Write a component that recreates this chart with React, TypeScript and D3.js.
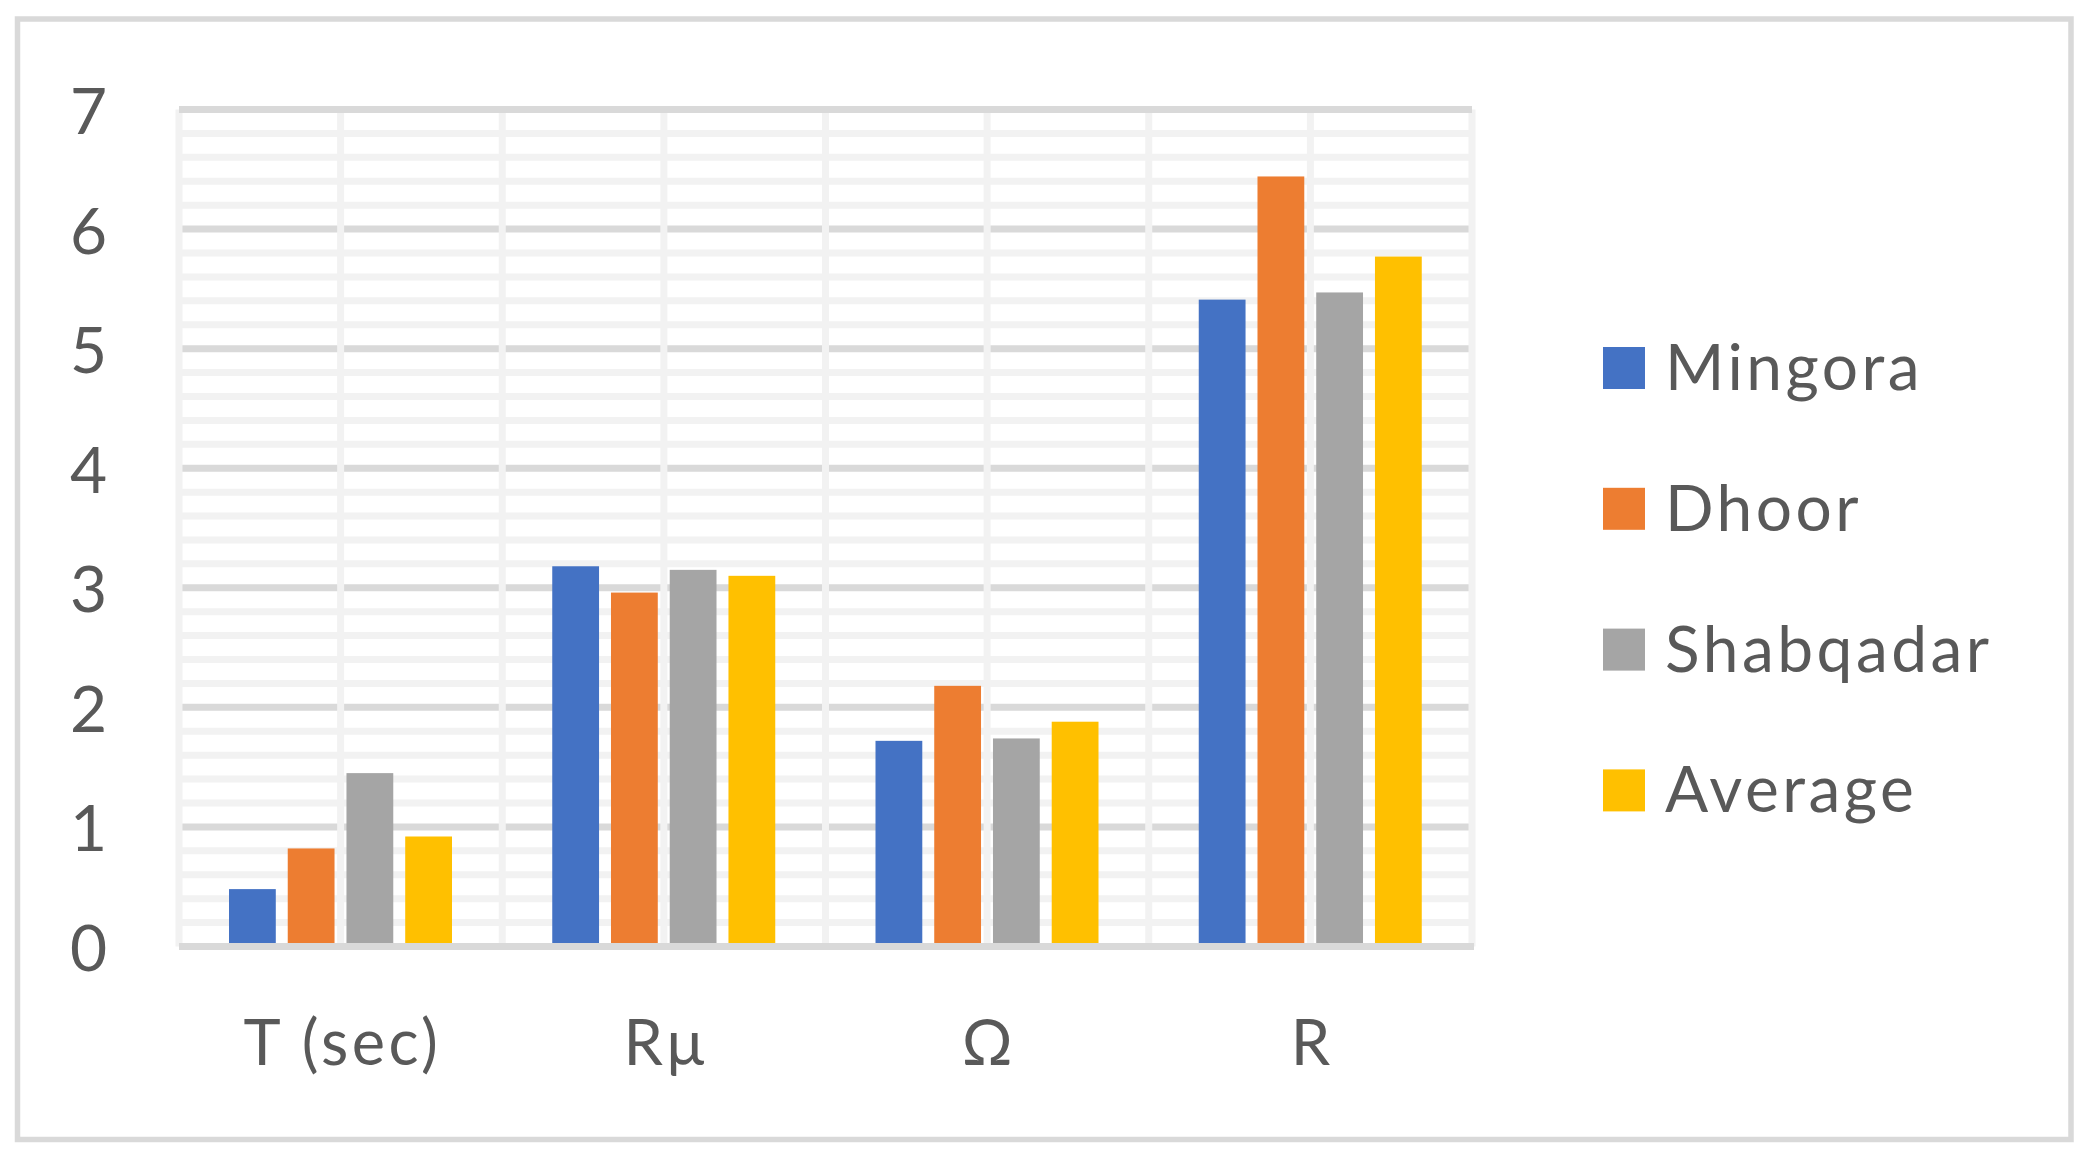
import React from "react";
import * as d3 from "d3";

const categories = ["T (sec)", "Rμ", "Ω", "R"];
const seriesNames = ["Mingora", "Dhoor", "Shabqadar", "Average"];
const mingora = [0.48, 3.18, 1.72, 5.41];
const dhoor = [0.82, 2.96, 2.18, 6.44];
const shabqadar = [1.45, 3.15, 1.74, 5.47];
const average = [0.92, 3.1, 1.88, 5.77];
const seriesValues = [mingora, dhoor, shabqadar, average];
const colors = ["#4472c4", "#ed7d31", "#a5a5a5", "#ffc000"];
const yTicks = [0, 1, 2, 3, 4, 5, 6, 7];

const W = 2089;
const H = 1156;
const plotLeft = 179;
const plotRight = 1472;
const plotTop = 109.5;
const plotBottom = 946.5;
const FONT = "Lato, 'Open Sans', sans-serif";
const TEXT = "#595959";
const LS = 3.5;

export default function App() {
  const y = d3.scaleLinear().domain([0, 7]).range([plotBottom, plotTop]);
  const x0 = d3.scaleBand<string>().domain(categories).range([plotLeft, plotRight]).padding(0);
  const x1 = d3
    .scaleBand<string>()
    .domain(seriesNames)
    .range([50, 273])
    .paddingInner(0.2034)
    .paddingOuter(0);

  const minorTicks = d3.range(0, 35).map((i) => i / 5).filter((v) => Math.abs(v - Math.round(v)) > 1e-6);
  const majorInner = yTicks.filter((v) => v > 0 && v < 7);
  const vLines: number[] = [];
  categories.forEach((c) => {
    vLines.push(x0(c)!);
    vLines.push(x0(c)! + x0.bandwidth() / 2);
  });
  vLines.push(plotRight);

  const lineW = 7;

  return (
    <div style={{ position: "absolute", left: 0, top: 0 }}>
      <svg width={W} height={H} style={{ display: "block", background: "#fff" }}>
        <rect x={0} y={0} width={W} height={H} fill="#fff" />
        {/* outer frame */}
        <rect x={17.5} y={19} width={2071 - 17.5} height={1139.5 - 19} fill="none" stroke="#d9d9d9" strokeWidth={5.5} />

        {/* minor horizontal gridlines */}
        {minorTicks.map((v, i) => (
          <line key={"mn" + i} x1={plotLeft} x2={plotRight} y1={y(v)} y2={y(v)} stroke="#f2f2f2" strokeWidth={lineW} />
        ))}
        {/* major horizontal gridlines */}
        {majorInner.map((v) => (
          <line key={"mj" + v} x1={plotLeft} x2={plotRight} y1={y(v)} y2={y(v)} stroke="#d9d9d9" strokeWidth={lineW} />
        ))}
        {/* vertical gridlines */}
        {vLines.map((vx, i) => (
          <line key={"v" + i} x1={vx} x2={vx} y1={y(7)} y2={y(0)} stroke="#f2f2f2" strokeWidth={lineW} />
        ))}
        {/* top line */}
        <line x1={plotLeft} x2={plotRight} y1={y(7)} y2={y(7)} stroke="#d9d9d9" strokeWidth={lineW} />

        {/* bars */}
        {seriesValues.map((vals, si) =>
          vals.map((v, ci) => (
            <rect
              key={"b" + si + "-" + ci}
              x={x0(categories[ci])! + x1(seriesNames[si])!}
              y={y(v)}
              width={x1.bandwidth()}
              height={y(0) - y(v)}
              fill={colors[si]}
            />
          ))
        )}

        {/* x axis line */}
        <line x1={plotLeft} x2={plotRight + 2} y1={y(0)} y2={y(0)} stroke="#d9d9d9" strokeWidth={lineW} />

        {/* y tick labels */}
        {yTicks.map((t) => (
          <text
            key={"yt" + t}
            x={107}
            y={y(t)}
            textAnchor="end"
            dominantBaseline="central"
            fontFamily={FONT}
            fontSize={64}
            fill={TEXT}
          >
            {t}
          </text>
        ))}

        {/* category labels */}
        {categories.map((c) => (
          <text
            key={"c" + c}
            x={x0(c)! + x0.bandwidth() / 2 + LS / 2}
            y={1065}
            textAnchor="middle"
            fontFamily={FONT}
            fontSize={63}
            letterSpacing={LS}
            fill={TEXT}
          >
            {c}
          </text>
        ))}

        {/* legend */}
        {seriesNames.map((s, i) => {
          const cy = 368 + i * 140.8;
          return (
            <g key={"lg" + s}>
              <rect x={1603} y={cy - 21} width={42} height={42} fill={colors[i]} />
              <text x={1665} y={cy + 22} fontFamily={FONT} fontSize={64} letterSpacing={LS} fill={TEXT}>
                {s}
              </text>
            </g>
          );
        })}
      </svg>
    </div>
  );
}
